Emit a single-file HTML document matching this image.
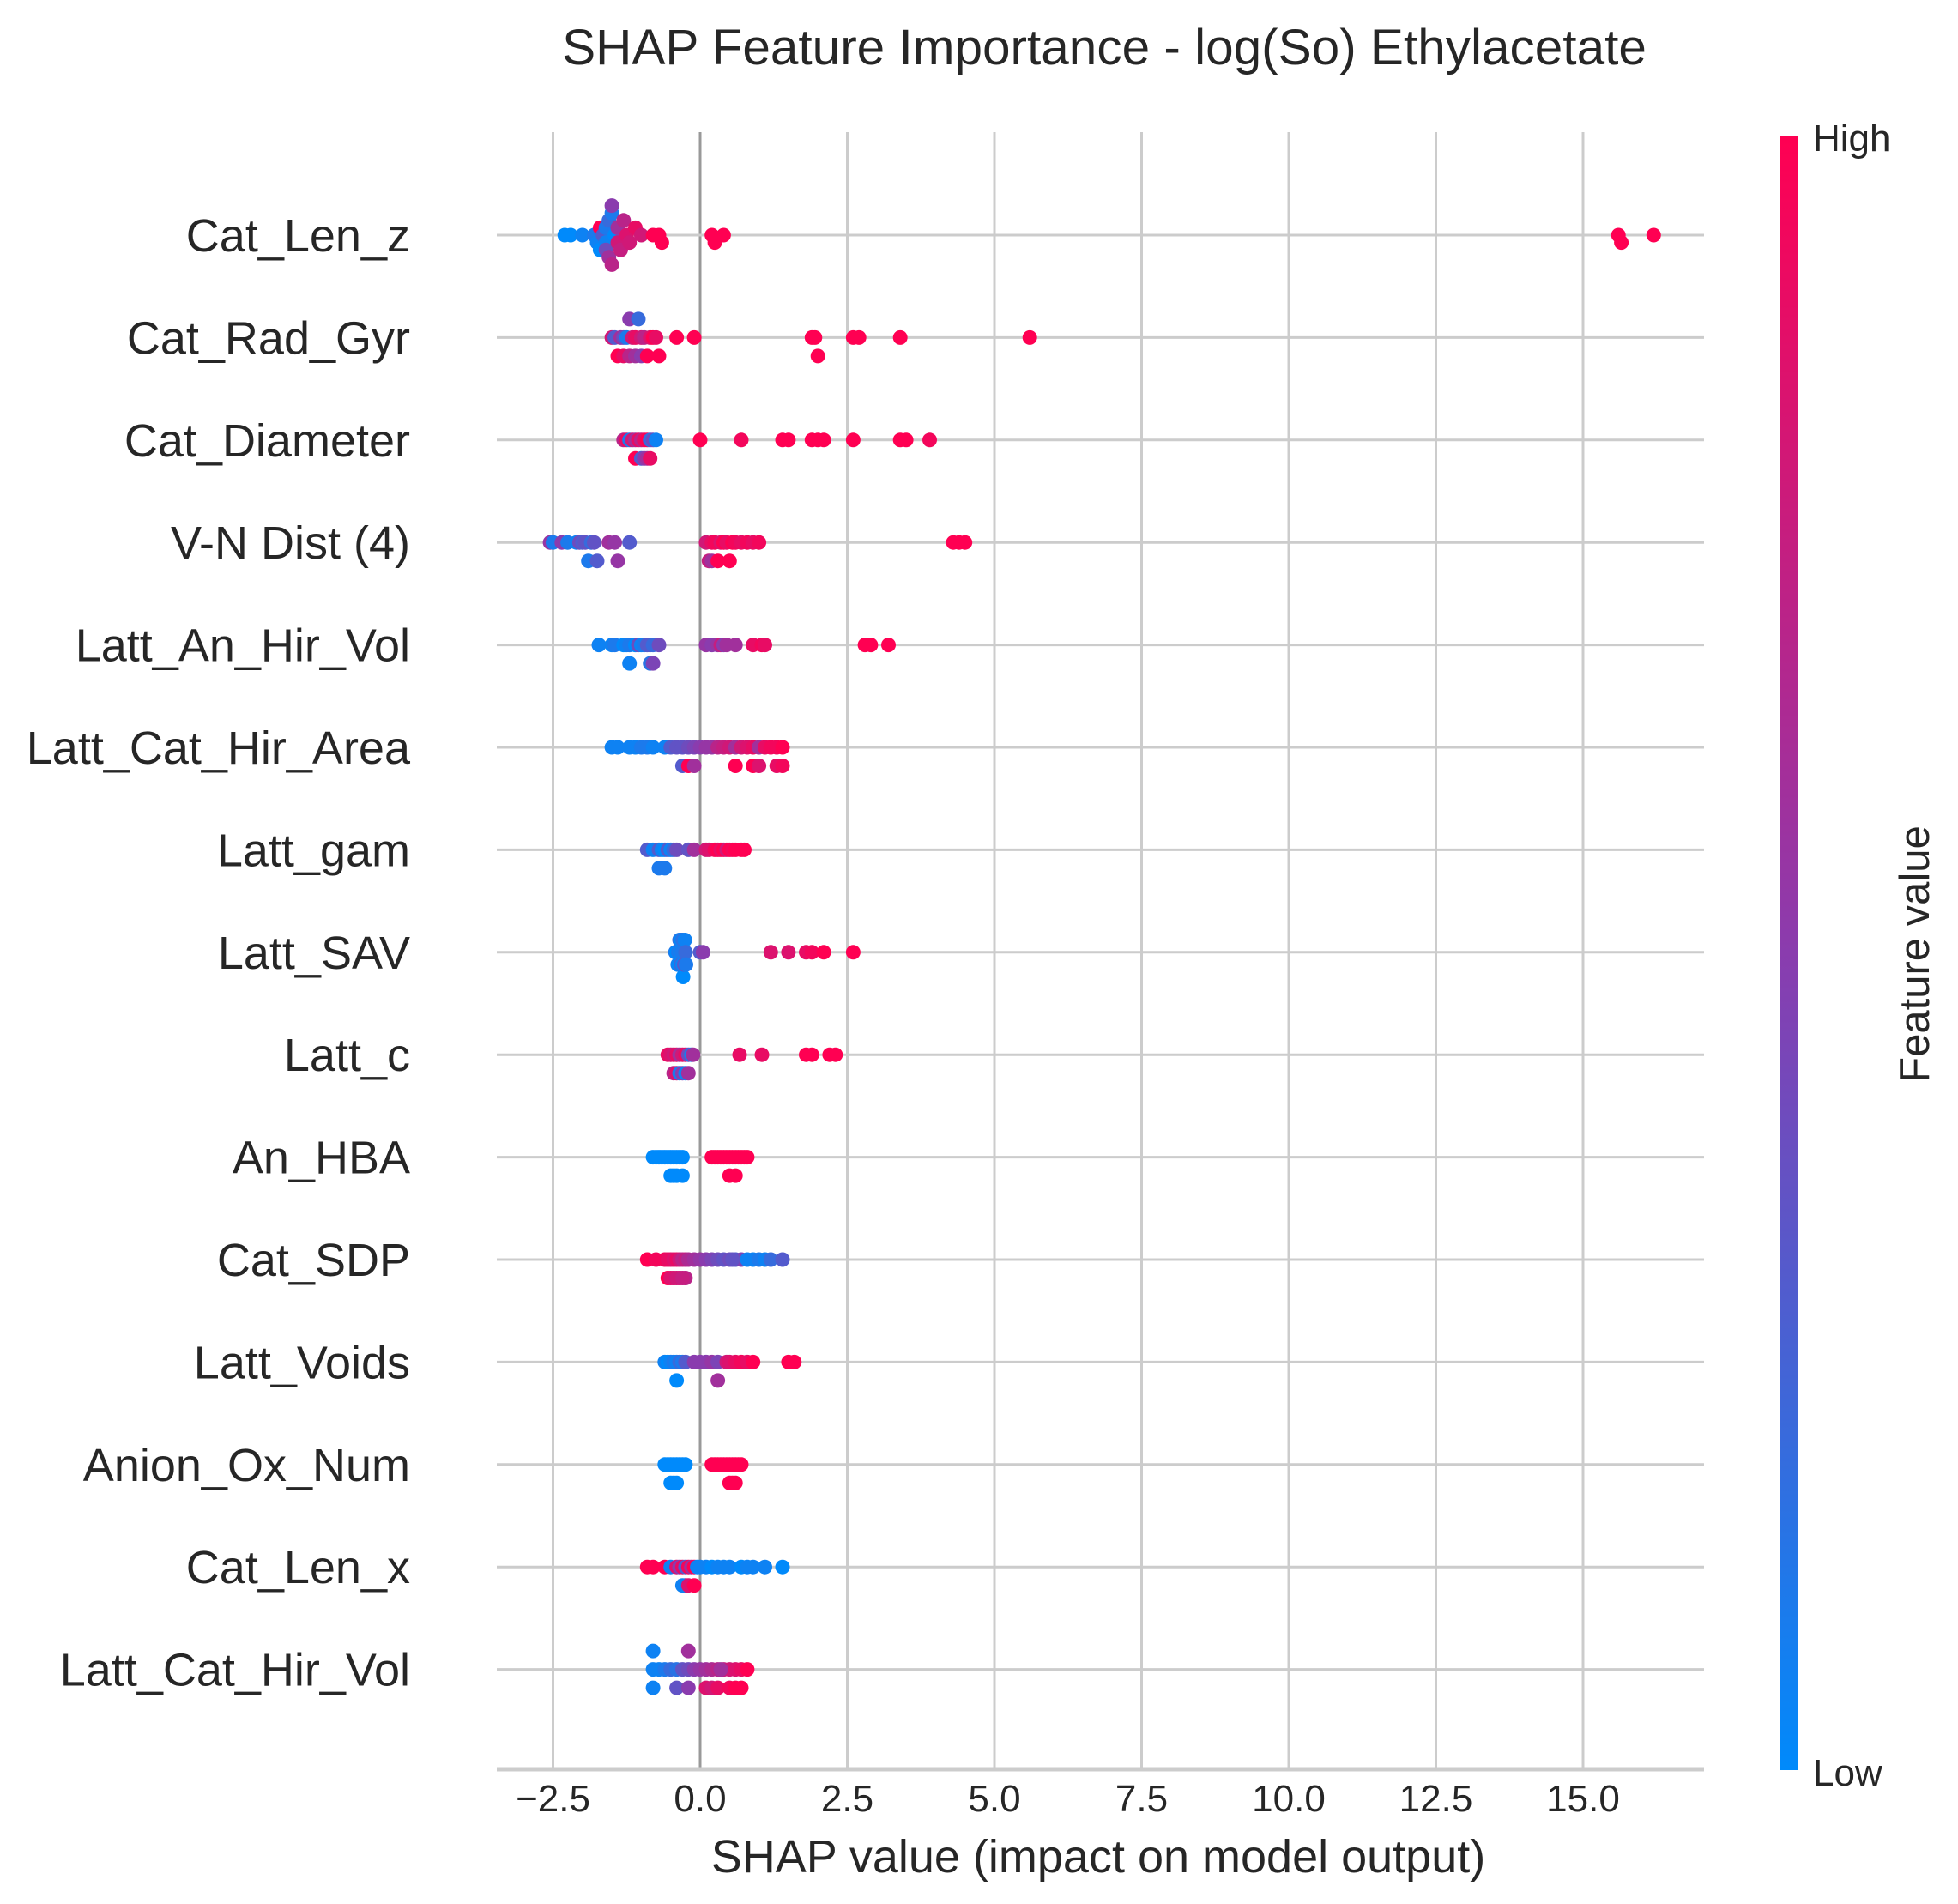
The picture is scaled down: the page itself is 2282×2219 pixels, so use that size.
<!DOCTYPE html>
<html><head><meta charset="utf-8"><style>
html,body{margin:0;padding:0;background:#fff;}
svg{display:block;font-family:"Liberation Sans",Arial,sans-serif;}
</style></head><body>
<svg id="chart" width="2282" height="2219" viewBox="0 0 2282 2219" xmlns="http://www.w3.org/2000/svg">
<defs><linearGradient id="cbg" x1="0" y1="1" x2="0" y2="0"><stop offset="0" stop-color="#008afb"/><stop offset="0.5" stop-color="#8a3cae"/><stop offset="1" stop-color="#ff0052"/></linearGradient></defs>
<text x="1287" y="75" font-size="58.5" text-anchor="middle" fill="#262626">SHAP Feature Importance - log(So) Ethylacetate</text>
<g id="grid"></g>
<g id="rows"></g>
<g id="dots"></g>
<g id="labels"></g>
<g id="ticks"></g>
<text x="1280" y="2182" font-size="54" text-anchor="middle" fill="#262626">SHAP value (impact on model output)</text>
<rect x="2074" y="158" width="22" height="1905" fill="url(#cbg)"/>
<text x="2113" y="176" font-size="44" fill="#262626">High</text>
<text x="2113" y="2081" font-size="44" fill="#262626">Low</text>
<text transform="translate(2248,1112) rotate(-90)" font-size="49" text-anchor="middle" fill="#262626">Feature value</text>
</svg>
<script>
const features = ["Cat_Len_z","Cat_Rad_Gyr","Cat_Diameter","V-N Dist (4)","Latt_An_Hir_Vol","Latt_Cat_Hir_Area","Latt_gam","Latt_SAV","Latt_c","An_HBA","Cat_SDP","Latt_Voids","Anion_Ox_Num","Cat_Len_x","Latt_Cat_Hir_Vol"];
const tickValues = [-2.5,0,2.5,5,7.5,10,12.5,15];
const tickLabels = ["\u22122.5","0.0","2.5","5.0","7.5","10.0","12.5","15.0"];
const shap0 = [-2.3,-2.2,-2.0,-1.8,-1.75,-1.7,-1.7,-1.65,-1.6,-1.6,-1.6,-1.55,-1.55,-1.5,-1.5,-1.5,-1.45,-1.4,-1.4,-1.35,-1.3,-1.25,-1.2,-1.1,-1.0,-0.8,-0.7,-0.65,0.2,0.25,0.4,15.6,15.65,16.2];
const fv0   = [0,0,0.05,0.1,0.05,1,0,0.3,0.05,0.1,0.4,0.2,0.6,0.1,0.7,0.5,0,0.8,0.6,0.75,0.7,0.85,0.8,0.9,0.8,1,1,1,1,1,1,1,1,1];
const shap1 = [-1.5,-1.45,-1.4,-1.35,-1.3,-1.3,-1.25,-1.2,-1.2,-1.15,-1.1,-1.1,-1.05,-1.0,-1.0,-0.95,-0.9,-0.85,-0.8,-0.75,-0.7,-0.4,-0.1,1.9,1.95,2.0,2.6,2.7,3.4,5.6];
const fv1   = [0.8,0.3,1,0.6,0.4,0.9,0.1,0.7,0.5,0.8,0.9,0.6,0.2,0.8,0.5,0.7,1,0.85,1,0.9,1,1,1,1,1,1,1,1,1,1];
const shap2 = [-1.3,-1.25,-1.2,-1.15,-1.1,-1.1,-1.05,-1.0,-1.0,-0.95,-0.95,-0.9,-0.9,-0.85,-0.85,-0.8,-0.75,0.0,0.7,1.4,1.5,1.9,2.0,2.1,2.6,3.4,3.5,3.9];
const fv2   = [0.7,0.9,0.1,0.8,0.6,1,0.9,0.7,0.3,0.9,0.5,1,0.6,0.2,0.9,0.4,0.05,1,0.95,1,1,1,1,1,1,1,1,0.95];
const shap3 = [-2.55,-2.5,-2.35,-2.25,-2.1,-2.05,-2.0,-1.95,-1.9,-1.85,-1.8,-1.75,-1.55,-1.45,-1.4,-1.2,0.1,0.15,0.2,0.2,0.25,0.3,0.35,0.4,0.45,0.5,0.55,0.6,0.7,0.8,0.9,1.0,4.3,4.4,4.5];
const fv3   = [0.55,0.1,0.5,0.1,0.05,0.4,0.3,0.35,0.1,0.2,0.35,0.3,0.6,0.55,0.55,0.3,0.8,0.75,0.9,0.6,0.95,1,0.85,1,0.9,1,1,0.95,0.9,0.95,0.9,0.95,1,1,1];
const shap4 = [-1.72,-1.5,-1.45,-1.3,-1.25,-1.2,-1.2,-1.1,-1.05,-1.0,-0.95,-0.9,-0.85,-0.85,-0.8,-0.8,-0.7,0.1,0.2,0.3,0.35,0.4,0.45,0.6,0.9,1.05,1.1,2.8,2.9,3.2];
const fv4   = [0.05,0.05,0.1,0,0.05,0.1,0.05,0,0.4,0.05,0.1,0.3,0.3,0.15,0.2,0.45,0.4,0.55,0.5,0.55,0.75,0.5,0.6,0.6,0.9,0.95,0.9,1,1,1];
const shap5 = [-1.5,-1.4,-1.2,-1.1,-1.0,-0.9,-0.8,-0.6,-0.5,-0.4,-0.3,-0.2,-0.1,0.0,0.1,0.2,0.3,0.4,0.5,0.6,0.7,0.8,0.9,1.0,1.1,1.2,1.3,1.4,-0.3,-0.2,-0.1,0.6,0.9,1.0,1.3,1.4];
const fv5   = [0.05,0.05,0.05,0.05,0.1,0.1,0.05,0.05,0.3,0.35,0.35,0.4,0.45,0.5,0.55,0.55,0.7,0.75,0.8,0.6,0.8,0.85,0.9,0.6,0.9,0.95,0.95,1,0.3,1,0.6,1,1,0.85,0.9,0.95];
const shap6 = [-0.9,-0.8,-0.7,-0.7,-0.65,-0.6,-0.6,-0.55,-0.5,-0.45,-0.4,-0.2,-0.1,0.1,0.15,0.25,0.3,0.35,0.4,0.45,0.5,0.55,0.6,0.7,0.75];
const fv6   = [0.3,0.05,0.3,0.1,0.05,0.0,0.1,0.3,0.05,0.2,0.4,0.35,0.6,0.8,0.85,0.95,1,0.9,1,0.8,1,0.95,1,1,1];
const shap7 = [-0.42,-0.4,-0.38,-0.37,-0.35,-0.35,-0.34,-0.33,-0.32,-0.31,-0.3,-0.3,-0.29,-0.28,-0.27,-0.26,-0.25,-0.24,0.0,0.05,1.2,1.5,1.8,1.9,2.1,2.6];
const fv7   = [0.1,0,0.05,0.1,0,0.15,0.05,0.2,0,0.1,0.05,0.15,0,0.1,0.3,0.05,0.2,0.1,0.3,0.5,0.85,0.85,0.9,0.95,1,1];
const shap8 = [-0.55,-0.5,-0.45,-0.45,-0.4,-0.4,-0.35,-0.35,-0.3,-0.3,-0.25,-0.25,-0.2,-0.2,-0.15,-0.12,0.67,1.05,1.8,1.9,2.2,2.3];
const fv8   = [0.9,0.85,0.8,0.7,0.9,0.85,0.6,0.1,0.8,0.5,0.9,0.05,0.4,0.6,0.1,0.6,0.9,0.9,1,1,1,1];
const shap9 = [-0.8,-0.75,-0.7,-0.65,-0.6,-0.55,-0.5,-0.5,-0.45,-0.45,-0.4,-0.4,-0.35,-0.3,-0.3,0.2,0.25,0.3,0.35,0.4,0.45,0.5,0.5,0.55,0.6,0.6,0.65,0.7,0.75,0.8];
const fv9   = [0,0,0,0,0,0,0,0,0,0,0,0,0,0,0,1,1,1,1,1,1,1,1,1,1,1,1,1,1,1];
const shap10 = [-0.9,-0.75,-0.6,-0.55,-0.5,-0.45,-0.4,-0.35,-0.3,-0.25,-0.2,-0.1,0.0,0.1,0.2,0.3,0.4,0.5,0.6,0.7,0.8,0.9,1.0,1.1,1.2,1.4,0.55,-0.55,-0.45,-0.35,-0.25,-0.5,-0.4,-0.3];
const fv10   = [1,0.95,0.95,0.9,0.9,0.85,0.9,0.8,0.7,0.75,0.65,0.6,0.55,0.5,0.45,0.4,0.35,0.4,0.3,0.45,0.05,0.05,0.1,0.05,0.2,0.3,0.35,1,0.85,0.8,0.7,0.85,0.8,0.75];
const shap11 = [-0.6,-0.55,-0.5,-0.45,-0.4,-0.4,-0.35,-0.3,-0.25,-0.1,0.0,0.1,0.2,0.3,0.3,0.45,0.5,0.6,0.7,0.8,0.9,1.5,1.6];
const fv11   = [0.05,0.0,0.05,0.1,0.05,0.0,0.2,0.1,0.3,0.5,0.5,0.5,0.55,0.45,0.6,0.8,0.85,0.9,0.95,0.9,1,1,1];
const shap12 = [-0.6,-0.55,-0.5,-0.5,-0.45,-0.45,-0.4,-0.4,-0.35,-0.3,-0.25,0.2,0.25,0.3,0.35,0.4,0.45,0.5,0.5,0.55,0.55,0.6,0.6,0.65,0.7];
const fv12   = [0,0,0,0,0,0,0,0,0,0,0,1,1,1,1,1,1,1,1,1,1,1,1,1,1];
const shap13 = [-0.9,-0.8,-0.6,-0.5,-0.4,-0.35,-0.3,-0.25,-0.25,-0.2,-0.15,-0.1,-0.05,0.0,0.1,0.2,0.3,0.4,0.5,0.7,0.8,0.9,1.1,1.4,-0.3,-0.2,-0.1];
const fv13   = [1,1,1,0.05,0.85,0.5,0.9,0.3,0.8,0.95,0.6,1,0.05,0.05,0.05,0.0,0.05,0.05,0.05,0.0,0.05,0.05,0.05,0.0,0.05,0.85,1];
const shap14 = [-0.8,-0.7,-0.6,-0.5,-0.4,-0.3,-0.2,-0.1,0.0,0.1,0.2,0.3,0.4,0.5,0.6,0.7,0.8,-0.8,-0.4,-0.2,0.1,0.2,0.3,0.5,0.6,0.7,-0.8,-0.2,0.35];
const fv14   = [0.05,0.05,0.1,0.2,0.15,0.35,0.4,0.5,0.55,0.6,0.65,0.7,0.75,0.8,0.85,0.9,1,0.05,0.35,0.5,0.85,0.8,0.9,0.95,1,1,0.05,0.6,0.6];
const allShap = [shap0,shap1,shap2,shap3,shap4,shap5,shap6,shap7,shap8,shap9,shap10,shap11,shap12,shap13,shap14];
const allFv = [fv0,fv1,fv2,fv3,fv4,fv5,fv6,fv7,fv8,fv9,fv10,fv11,fv12,fv13,fv14];

const NS = "http://www.w3.org/2000/svg";
const X0 = 816, PXU = 68.6, ROW0 = 274, ROWH = 119.4;
const plotL = 579, plotR = 1986, plotT = 154, axisY = 2062;
function xs(v){ return X0 + v*PXU; }
function ys(i){ return ROW0 + i*ROWH; }
function mk(tag, attrs, parent){ const e=document.createElementNS(NS,tag); for(const k in attrs) e.setAttribute(k,attrs[k]); parent.appendChild(e); return e; }
function color(t){
  const a=[0,138,251], m=[138,60,174], b=[255,0,82];
  let p,q,u; if(t<0.5){p=a;q=m;u=t*2;}else{p=m;q=b;u=(t-0.5)*2;}
  const r=Math.round(p[0]+(q[0]-p[0])*u), g=Math.round(p[1]+(q[1]-p[1])*u), bl=Math.round(p[2]+(q[2]-p[2])*u);
  return `rgb(${r},${g},${bl})`;
}
const grid=document.getElementById('grid'), rows=document.getElementById('rows'), dots=document.getElementById('dots'), labels=document.getElementById('labels'), ticks=document.getElementById('ticks');
tickValues.forEach((v,i)=>{
  const l=mk('line',{x1:xs(v),x2:xs(v),y1:plotT,y2:axisY,stroke:v===0?'#999':'#cccccc','stroke-width':3},grid);
  
  
  const t=mk('text',{x:xs(v),y:2111,'font-size':44,'text-anchor':'middle',fill:'#262626'},ticks);
  t.textContent=tickLabels[i];
  
  
});
const ax=mk('line',{x1:plotL,x2:plotR,y1:axisY,y2:axisY,stroke:'#cccccc','stroke-width':5},grid);


features.forEach((f,i)=>{
  const y=ys(i);
  const l=mk('line',{x1:plotL,x2:plotR,y1:y,y2:y,stroke:'#cccccc','stroke-width':3},rows);
  
  
  const t=mk('text',{x:478,y:y+19,'font-size':54,'text-anchor':'end',fill:'#262626'},labels);
  t.textContent=f;
  
  
  const sh=allShap[i], fv=allFv[i], n=Math.min(sh.length,fv.length);
  let mn=Infinity,mxv=-Infinity; for(let k=0;k<n;k++){mn=Math.min(mn,sh[k]);mxv=Math.max(mxv,sh[k]);}
  const quant=[]; for(let k=0;k<n;k++) quant.push(Math.round(100*(sh[k]-mn)/(mxv-mn+1e-8)));
  const inds=[...Array(n).keys()].sort((a,b)=>quant[a]-quant[b]||a-b);
  const off=new Array(n).fill(0); let layer=0,last=-1;
  inds.forEach(k=>{ if(quant[k]!==last) layer=0; off[k]=Math.ceil(layer/2)*((layer%2)*2-1); layer++; last=quant[k]; });
  let maxo=0; off.forEach(o=>maxo=Math.max(maxo,Math.abs(o)+1));
  const sc=0.9*0.4*ROWH/maxo;
  for(let k=0;k<n;k++){
    const c=mk('circle',{cx:xs(sh[k]).toFixed(1),cy:(y+off[k]*sc).toFixed(1),r:8.5,fill:color(fv[k])},dots);
    
    
  }
});
</script>
</body></html>
